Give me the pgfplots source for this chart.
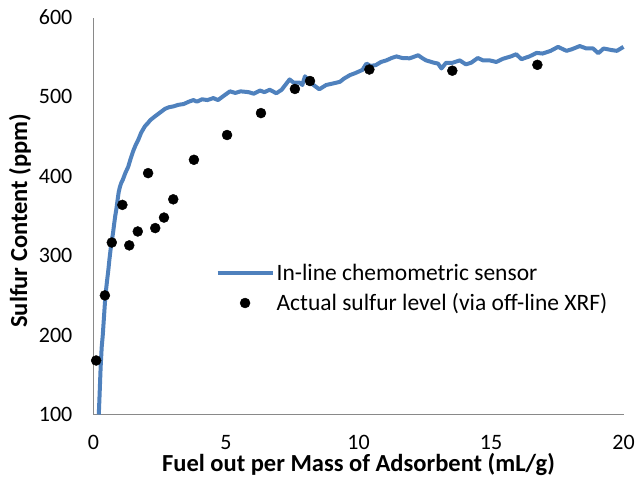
\documentclass[border=0pt]{standalone}
\usepackage{pgfplots}
\pgfplotsset{compat=1.18}
\usepackage{fontspec}
\setmainfont{Carlito}
\definecolor{lineblue}{HTML}{4F81BD}
\definecolor{axgray}{HTML}{898989}
\pgfplotsset{
  lineleg/.style={legend image code/.code={\draw[##1] (0bp,0bp) -- (55bp,0bp);}},
  dotleg/.style={legend image code/.code={\draw[##1] plot coordinates {(27.5bp,0bp)};}},
}
\begin{document}
\begin{tikzpicture}
\begin{axis}[
  name=ax,
  scale only axis,
  width=530bp, height=397bp,
  xmin=0, xmax=20, ymin=100, ymax=600,
  xtick={0,5,10,15,20},
  ytick={100,200,300,400,500,600},
  major tick length=0pt,
  axis x line=bottom, axis y line=left,
  axis line style={-, draw=axgray, line width=1.5bp},
  clip=false,
  /pgf/number format/assume math mode=true,
  tick label style={font=\fontsize{22bp}{26bp}\selectfont, text=black},
  xticklabel style={anchor=center, inner sep=0pt, yshift=-28bp},
  yticklabel style={anchor=east, inner sep=0pt, xshift=-21bp},
  xlabel={\bfseries Fuel out per Mass of Adsorbent (mL/g)},
  ylabel={\bfseries Sulfur Content (ppm)},
  label style={font=\fontsize{24.5bp}{28bp}\selectfont, inner sep=0pt},
  xlabel style={at={(axis description cs:0.5,0)}, anchor=center, yshift=-50bp},
  ylabel style={at={(axis description cs:-0.1387,0.488)}, anchor=center},
  legend style={draw=none, fill=none, at={(0.23,0.385)}, anchor=north west,
    font=\fontsize{23.5bp}{28bp}\selectfont, inner sep=0pt, row sep=8bp,
    nodes={inner sep=2bp}},
  legend cell align=left,
]
\addplot[color=lineblue, line width=4bp, line join=round, no markers, lineleg]
coordinates {
(0.2,100) (0.23,125) (0.27,160) (0.31,185) (0.35,200) (0.4,225) (0.45,250)
(0.5,265) (0.56,282) (0.6,295) (0.66,312) (0.72,325) (0.75,332) (0.78,340)
(0.82,350) (0.86,358) (0.9,368) (0.95,380) (1.0,387) (1.05,392) (1.11,396)
(1.2,404) (1.31,412) (1.4,422) (1.5,432) (1.6,440) (1.69,446) (1.8,455)
(1.94,463) (2.05,467) (2.15,471) (2.32,475.5) (2.5,480) (2.7,485) (2.85,487)
(3.01,488) (3.2,490) (3.4,491) (3.6,494) (3.77,496) (3.9,494) (4.1,497)
(4.3,496) (4.52,498.5) (4.7,496) (4.9,501) (5.15,507) (5.35,505) (5.55,507)
(5.85,506) (6.05,504) (6.28,508) (6.45,506) (6.65,509) (6.9,504.6) (7.1,509)
(7.4,522) (7.55,518) (7.78,518) (7.88,515) (7.98,526) (8.18,518) (8.52,509.6)
(8.78,515) (9.05,517) (9.3,519) (9.45,523) (9.68,527.5) (9.88,530) (10.15,534)
(10.3,542) (10.45,539) (10.65,540) (10.85,544) (11.05,546) (11.25,549)
(11.43,551) (11.65,549) (11.93,548.6) (12.05,550) (12.25,552.5) (12.4,549)
(12.55,546) (12.85,543) (13.0,542) (13.13,535.8) (13.3,542.8) (13.55,543)
(13.82,546) (14.05,541) (14.25,543) (14.5,549) (14.7,546) (14.95,546)
(15.2,544) (15.45,548) (15.75,551) (15.95,553.7) (16.15,547.5) (16.45,551)
(16.72,555.4) (16.95,554.6) (17.25,558) (17.53,563) (17.85,558) (18.05,560)
(18.35,564) (18.6,561) (18.85,561) (19.05,555) (19.25,561) (19.55,559)
(19.75,558) (20.0,563)
};
\addlegendentry{In-line chemometric sensor}
\addplot[only marks, mark=*, mark size=5bp, color=black, dotleg]
coordinates {
(0.1,168) (0.43,250) (0.69,316.6) (1.09,364) (1.35,313) (1.67,330.5)
(2.06,404) (2.33,334.8) (2.66,348) (3.01,371) (3.79,420.8) (5.04,452)
(6.32,479.6) (7.6,510) (8.17,520) (10.41,534.5) (13.54,533) (16.75,540.4)
};
\addlegendentry{Actual sulfur level (via off-line XRF)}
\end{axis}
\pgfresetboundingbox
\path (-93.5bp,-62.3bp) rectangle (541.5bp,414.5bp);
\end{tikzpicture}
\end{document}
